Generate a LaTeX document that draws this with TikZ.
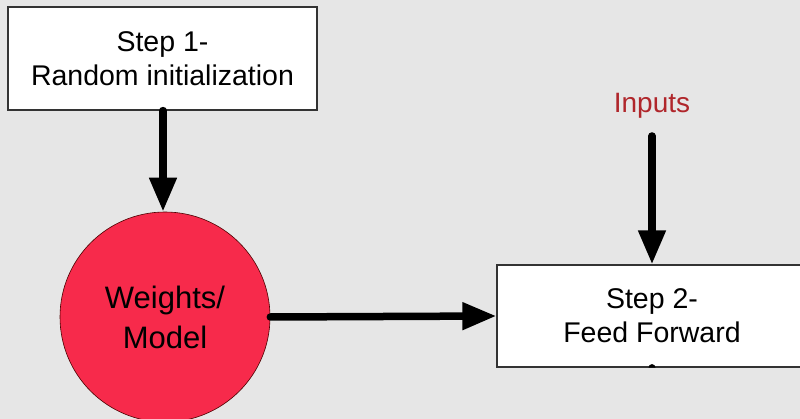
\documentclass[tikz,border=0pt]{standalone}
\usepackage{fontspec}
\setmainfont{Liberation Sans}
\usetikzlibrary{arrows.meta}
\definecolor{bgcol}{HTML}{E6E6E6}
\definecolor{nodered}{HTML}{F72A4B}
\definecolor{inputred}{HTML}{B0262B}
\definecolor{framecol}{HTML}{333333}
\begin{document}
\begin{tikzpicture}[x=1pt,y=-1pt,
  stepbox/.style={draw=framecol,line width=1.2pt,fill=white,inner sep=0pt,
    align=center,font=\fontsize{28.5}{34}\selectfont},
  model/.style={circle,draw=black!70!red,line width=0.6pt,fill=nodered,inner sep=0pt,
    minimum size=210pt,align=center,font=\fontsize{31}{40}\selectfont},
  flow/.style={line width=7.5pt,line cap=round,
    -{Triangle[length=34pt,width=26pt,line cap=butt]}}]
  % canvas
  \fill[bgcol] (0,0) rectangle (800,419);
  \clip (0,0) rectangle (800,419);
  % step boxes
  \node[stepbox,minimum width=309pt,minimum height=103pt] (s1) at (162.5,58.5)
    {Step 1-\\Random initialization};
  \node[stepbox,minimum width=310pt,minimum height=102pt] (s2) at (652,316)
    {Step 2-\\Feed Forward};
  % model circle
  \node[model] (w) at (165,317) {Weights/\\Model};
  % input label
  \node[text=inputred,font=\fontsize{28}{32}\selectfont,anchor=base] (in) at (652,113) {Inputs};
  \coordinate (inStart) at (652,136);
  % connectors
  \draw[flow] (s1.south -| 163,0) -- (w.north -| 163,0);
  \draw[flow] (w.east) -- (s2.west);
  \draw[flow] (inStart) -- (s2.north);
  % stub of an outgoing connector on the bottom edge of step 2
  \fill (s2.south) ++(-3.5,0) arc[start angle=180,end angle=360,radius=3.5] -- cycle;
\end{tikzpicture}
\end{document}
